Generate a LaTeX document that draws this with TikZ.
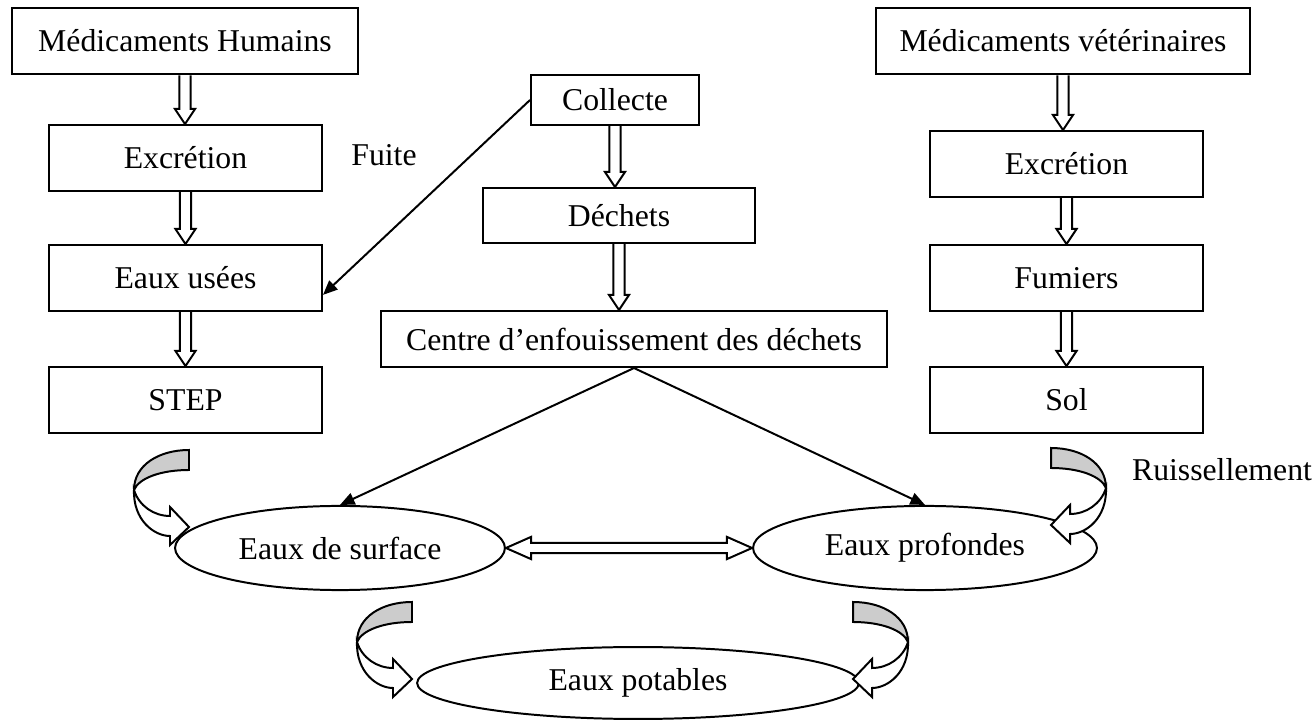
\documentclass[tikz,border=0pt,12pt]{standalone}
\usepackage{fontspec}
\setmainfont{Liberation Serif}
\usetikzlibrary{arrows.meta,calc,shapes.geometric}

% hollow block arrow pointing down, from one box to the next
\newcommand{\hollowdown}[2]{%
  \draw let \p1=(#1.south), \p2=(#2.north) in
    (\x1-2.1pt,\y1) -- (\x1-2.1pt,\y2+5.7pt) -- (\x1-3.8pt,\y2+5.7pt) -- (\x1,\y2)
    -- (\x1+3.8pt,\y2+5.7pt) -- (\x1+2.1pt,\y2+5.7pt) -- (\x1+2.1pt,\y1);}

\begin{document}
\begin{tikzpicture}[x=0.378pt, y=-0.378pt, line width=0.75pt,
    box/.style={rectangle, draw, minimum width=103.2pt, minimum height=24.9pt, align=center},
    eau/.style={ellipse, draw, inner sep=0pt, minimum width=124.7pt, minimum height=31.8pt},
    arrow/.style={-{Triangle[length=5.5pt, width=4.6pt]}},
    uturn/.pic={
      \draw[fill=gray!40] (0,0) .. controls (-30,0) and (-55,15) .. (-55,40)
        .. controls (-50,28) and (-28,20) .. (0,20) -- cycle;
      \draw[fill=white] (-55,40) .. controls (-56,70) and (-35,86) .. (-19,86)
        -- (-19,95) -- (0,77) -- (-19,57) -- (-19,66)
        .. controls (-35,66) and (-50,56) .. (-55,40) -- cycle;
    }
  ]
  \useasboundingbox (0,0) rectangle (1315,721);

  % human side
  \node[box, minimum width=130.8pt, minimum height=25.3pt] (humains) at (185,41) {Médicaments Humains};
  \node[box] (excr1)  at (185.5,158) {Excrétion};
  \node[box] (usees)  at (185.5,278) {Eaux usées};
  \node[box] (step1)  at (185.5,400) {STEP};

  % waste
  \node[box, minimum width=63.5pt, minimum height=18.9pt] (collecte) at (615,100) {Collecte};
  \node[box, minimum width=102.8pt, minimum height=20.8pt] (dechets) at (619,215.5) {Déchets};
  \node[box, minimum width=191.3pt, minimum height=21.2pt] (centre) at (634,339) {Centre d’enfouissement des déchets};

  % veterinary side
  \node[box, minimum width=141.4pt, minimum height=25.3pt] (veto) at (1063,41) {Médicaments vétérinaires};
  \node[box] (excr2)   at (1066.5,164) {Excrétion};
  \node[box] (fumiers) at (1066.5,278) {Fumiers};
  \node[box] (sol)     at (1066.5,400) {Sol};

  % waters
  \node[eau] (surface)   at (340,548) {Eaux de surface};
  \node[eau, minimum width=130pt] (profondes) at (925,548) {Eaux profondes};
  \node[eau, minimum width=167pt, minimum height=27.2pt] (potables) at (638,683) {Eaux potables};

  \node (fuite) at (384,155) {Fuite};
  \node (ruiss) at (1222,470) {Ruissellement};

  \hollowdown{humains}{excr1}
  \hollowdown{excr1}{usees}
  \hollowdown{usees}{step1}
  \hollowdown{collecte}{dechets}
  \hollowdown{dechets}{centre}
  \hollowdown{veto}{excr2}
  \hollowdown{excr2}{fumiers}
  \hollowdown{fumiers}{sol}

  \draw[arrow] (collecte.west) -- (usees.-7);
  \draw[arrow] (centre.south) -- (surface.north);
  \draw[arrow] (centre.south) -- (profondes.north);

  % double hollow arrow
  \draw let \p1=(surface.east), \p2=(profondes.west) in
    (\x1,\y1) -- (\x1+9.5pt,\y1+4.2pt) -- (\x1+9.5pt,\y1+1.9pt) -- (\x2-9.5pt,\y1+1.9pt)
    -- (\x2-9.5pt,\y1+4.2pt) -- (\x2,\y1) -- (\x2-9.5pt,\y1-4.2pt) -- (\x2-9.5pt,\y1-1.9pt)
    -- (\x1+9.5pt,\y1-1.9pt) -- (\x1+9.5pt,\y1-4.2pt) -- cycle;

  \pic at (189,450) {uturn};
  \pic[xscale=-1] at (1051,448) {uturn};
  \pic at (412,602) {uturn};
  \pic[xscale=-1] at (853,602) {uturn};
\end{tikzpicture}
\end{document}
